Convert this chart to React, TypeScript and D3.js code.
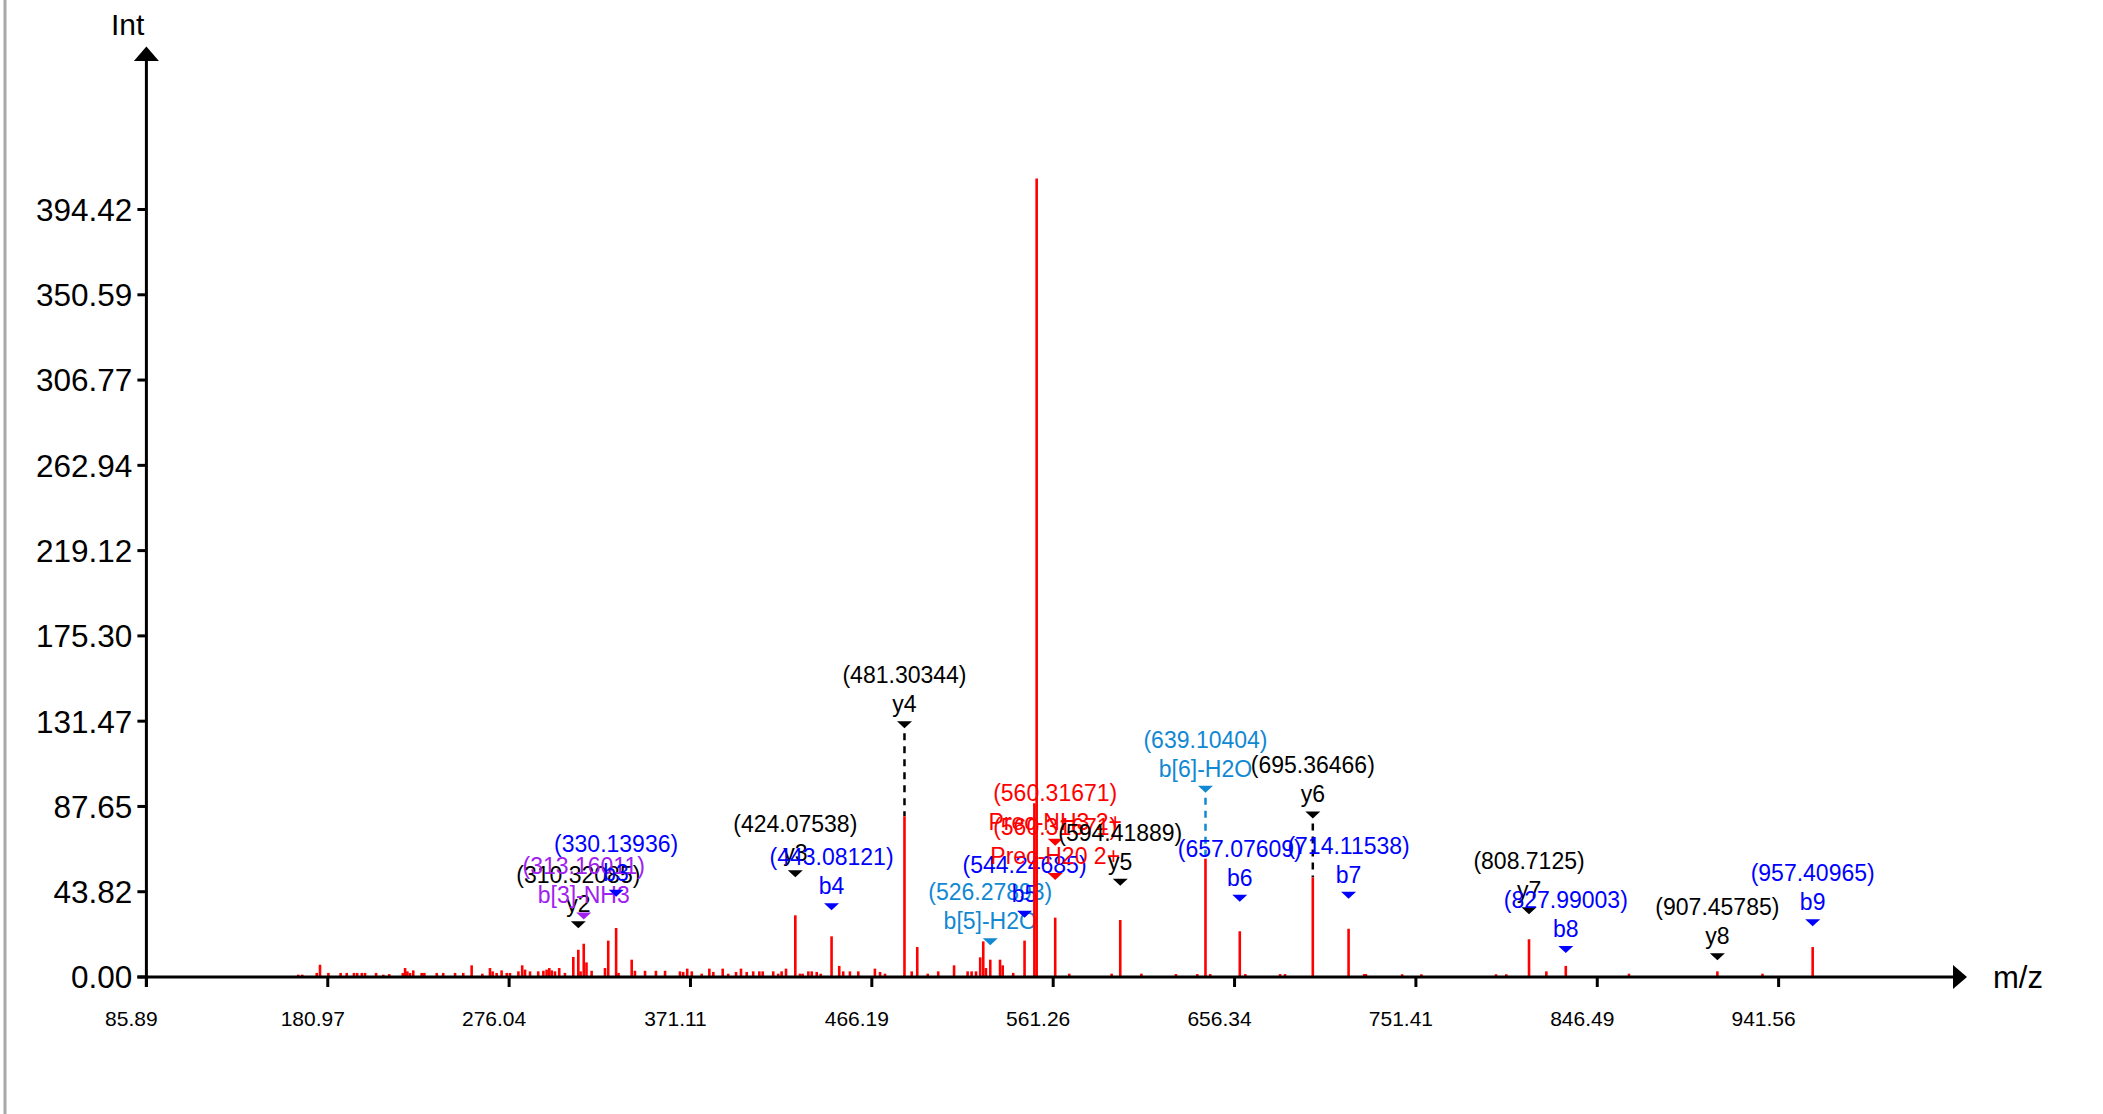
import React from "react";
import * as d3 from "d3";

// ---------- data ----------
const peakMz: number[] = [
  163.5, 165.6, 173.2, 174.9, 179.3, 185.7, 188.9, 192.7, 194.4, 196.8, 198.5, 204.3, 208.1, 211.2,
  218.3, 219.5, 220.7, 222.1, 223.8, 228.2, 229.6, 236.1, 239.5, 245.7, 250.0, 254.4, 260.0, 264.0,
  265.4, 267.5, 270.1, 272.8, 274.5, 278.9, 280.9, 282.4, 285.0, 289.3, 292.0, 293.7, 295.1, 296.4,
  298.1, 300.3, 303.3, 307.7, 310.32, 311.5, 313.16, 314.6, 317.3, 324.3, 326.0, 330.14, 331.4, 338.3,
  340.0, 345.3, 351.0, 355.8, 363.6, 365.3, 367.4, 369.8, 375.0, 379.0, 381.1, 386.0, 388.9, 393.0,
  395.6, 398.6, 402.0, 405.2, 407.0, 412.5, 415.1, 416.9, 419.2, 424.08, 426.5, 427.9, 430.9, 432.7,
  435.3, 437.4, 443.08, 447.1, 449.2, 452.7, 457.1, 465.8, 468.5, 471.1, 481.3, 485.1, 488.0, 493.5,
  499.0, 507.3, 514.4, 516.5, 518.8, 521.0, 522.6, 524.0, 526.28, 531.4, 532.8, 538.3, 544.25, 549.4,
  550.6, 560.32, 567.7, 589.9, 594.42, 605.5, 623.6, 634.8, 639.1, 641.6, 657.08, 660.0, 678.2, 680.8,
  695.36, 714.12, 722.3, 723.2, 742.2, 752.3, 791.4, 796.8, 808.71, 817.8, 827.99, 861.1, 907.46, 931.1,
  957.41,
];
const peakInt: number[] = [
  1.2, 1.2, 2.1, 6.3, 2.1, 2.1, 2.1, 2.1, 2.1, 2.1, 2.1, 2.1, 1.2, 1.5,
  2.1, 4.6, 2.9, 2.1, 3.4, 2.1, 2.1, 2.1, 2.1, 2.1, 2.1, 6.0, 1.7, 4.6,
  2.9, 2.1, 3.4, 2.1, 2.1, 2.9, 6.0, 3.8, 2.9, 2.9, 3.2, 3.8, 4.6, 3.4,
  2.9, 4.6, 2.1, 10.3, 14.0, 2.9, 17.1, 7.5, 3.2, 4.6, 18.7, 25.2, 2.1, 8.9,
  3.2, 3.2, 3.2, 3.2, 2.9, 2.6, 4.3, 2.9, 1.7, 4.3, 2.6, 4.3, 1.7, 2.6,
  4.3, 2.6, 2.9, 2.9, 2.9, 2.9, 1.7, 2.9, 4.3, 31.7, 1.7, 1.7, 2.9, 2.9,
  2.6, 1.7, 20.9, 5.7, 2.9, 2.9, 2.9, 4.3, 2.6, 1.7, 82.6, 2.9, 15.4, 1.7,
  2.9, 6.0, 2.9, 2.9, 2.9, 10.1, 18.3, 4.6, 8.9, 8.9, 6.0, 2.1, 18.7, 89.3,
  410.4, 30.5, 1.7, 1.7, 29.3, 1.7, 1.5, 1.5, 60.8, 1.5, 23.5, 1.5, 1.5, 1.5,
  51.2, 24.8, 1.5, 1.5, 1.4, 1.4, 1.4, 1.4, 19.4, 2.9, 5.7, 1.7, 2.9, 1.7,
  15.4,
];

// annotations
const annMz: number[] = [
  310.32085, 313.16011, 330.13936, 424.07538, 443.08121, 481.30344, 526.27893, 544.24685,
  560.31671, 560.31671, 594.41889, 639.10404, 657.07609, 695.36466, 714.11538, 808.7125,
  827.99003, 907.45785, 957.40965,
];
const annName: string[] = [
  "y2", "b[3]-NH3", "b3", "y3", "b4", "y4", "b[5]-H2O", "b5",
  "Prec-NH3 2+", "Prec-H20 2+", "y5", "b[6]-H2O", "b6", "y6", "b7", "y7",
  "b8", "y8", "b9",
];
const annType: string[] = [
  "y", "bNH3", "b", "y", "b", "y", "bH2O", "b",
  "prec", "prec", "y", "bH2O", "b", "y", "b", "y",
  "b", "y", "b",
];
const annPeakInt: number[] = [
  14.0, 17.1, 25.2, 31.7, 20.9, 82.6, 8.9, 18.7,
  30.5, 30.5, 29.3, 60.8, 23.5, 51.2, 24.8, 19.4,
  5.7, 2.9, 15.4,
];
const annLevel: number[] = [
  28.6, 33.2, 44.9, 54.8, 37.9, 131.4, 19.9, 34.0,
  71.0, 53.5, 50.5, 98.3, 42.3, 85.1, 43.8, 35.8,
  15.9, 12.2, 29.7,
];
const annDashed: boolean[] = [
  false, false, false, false, false, true, false, false,
  false, false, false, true, false, true, false, false,
  false, false, false,
];

const xTickLabels: string[] = [
  "85.89", "180.97", "276.04", "371.11", "466.19", "561.26", "656.34", "751.41", "846.49", "941.56",
];
const yTickLabels: string[] = [
  "0.00", "43.82", "87.65", "131.47", "175.30", "219.12", "262.94", "306.77", "350.59", "394.42",
];

const typeColor: Record<string, string> = {
  y: "#000000",
  b: "#0000ff",
  bH2O: "#1188d2",
  bNH3: "#a020f0",
  prec: "#ff0000",
};

// ---------- layout ----------
const W = 2103;
const H = 1114;
const FONT = "'Liberation Sans', Arial, Helvetica, sans-serif";
const TICK_SHIFT = 2;

export default function App() {
  const x = d3.scaleLinear().domain([83.89, 1031.5]).range([146.4, 1954]);
  const y = d3.scaleLinear().domain([0, 394.42]).range([977, 209.5]);
  const x0 = x(83.89);
  const y0 = y(0);

  const peaks = peakMz.map((m, i) => ({ m, v: peakInt[i] }));
  const anns = annMz.map((m, i) => ({
    m,
    name: annName[i],
    color: typeColor[annType[i]],
    level: annLevel[i],
    pint: annPeakInt[i],
    dashed: annDashed[i],
  }));

  return (
    <svg
      width={W}
      height={H}
      style={{ position: "absolute", left: 0, top: 0, background: "#fff" }}
      fontFamily={FONT}
    >
      <rect x={0} y={0} width={W} height={H} fill="#fff" />
      <line x1={5} x2={5} y1={0} y2={H} stroke="#a8a8a8" strokeWidth={3} />

      {/* annotations */}
      {anns.map((a, i) => {
        const cx = x(a.m);
        const top = y(a.level);
        return (
          <g key={"a" + i}>
            {a.dashed && (
              <line
                x1={cx}
                x2={cx}
                y1={top + 12}
                y2={y(a.pint)}
                stroke={a.color}
                strokeWidth={2.5}
                strokeDasharray="7,6"
              />
            )}
            <path
              d={`M${cx - 7.5},${top} L${cx + 7.5},${top} L${cx},${top + 7} Z`}
              fill={a.color}
            />
            <text x={cx} y={top - 9} textAnchor="middle" fontSize={23} fill={a.color}>
              {a.name}
            </text>
            <text x={cx} y={top - 38} textAnchor="middle" fontSize={23} fill={a.color}>
              {"(" + a.m + ")"}
            </text>
          </g>
        );
      })}

      {/* peaks */}
      {peaks.map((p, i) => (
        <line
          key={"p" + i}
          x1={x(p.m)}
          x2={x(p.m)}
          y1={y0}
          y2={y(p.v)}
          stroke="#ff0000"
          strokeWidth={2.6}
        />
      ))}

      {/* y axis */}
      <line x1={x0} x2={x0} y1={y0 + 10} y2={58} stroke="#000" strokeWidth={3} />
      <path d={`M${x0},46.5 L${x0 - 12.5},61 L${x0 + 12.5},61 Z`} fill="#000" />
      <text x={x0 - 2} y={35} textAnchor="end" fontSize={30} fill="#000">
        Int
      </text>
      {yTickLabels.map((t) => {
        const v = parseFloat(t);
        return (
          <g key={"yt" + t}>
            <line x1={x0 - 9} x2={x0} y1={y(v)} y2={y(v)} stroke="#000" strokeWidth={3} />
            <text
              x={x0 - 14}
              y={y(v)}
              dy="0.36em"
              textAnchor="end"
              fontSize={31.5}
              fill="#000"
            >
              {t}
            </text>
          </g>
        );
      })}

      {/* x axis */}
      <line x1={x0 - 9} x2={1956} y1={y0} y2={y0} stroke="#000" strokeWidth={3} />
      <path d={`M1967,${y0} L1953,${y0 - 12} L1953,${y0 + 12} Z`} fill="#000" />
      <text x={1993} y={y0} dy="0.36em" fontSize={31} fill="#000">
        m/z
      </text>
      {xTickLabels.map((t) => {
        const px = x(parseFloat(t) - TICK_SHIFT);
        return (
          <g key={"xt" + t}>
            <line x1={px} x2={px} y1={y0} y2={y0 + 10} stroke="#000" strokeWidth={3} />
            <text x={px - 15} y={1026} textAnchor="middle" fontSize={21} fill="#000">
              {t}
            </text>
          </g>
        );
      })}
    </svg>
  );
}
